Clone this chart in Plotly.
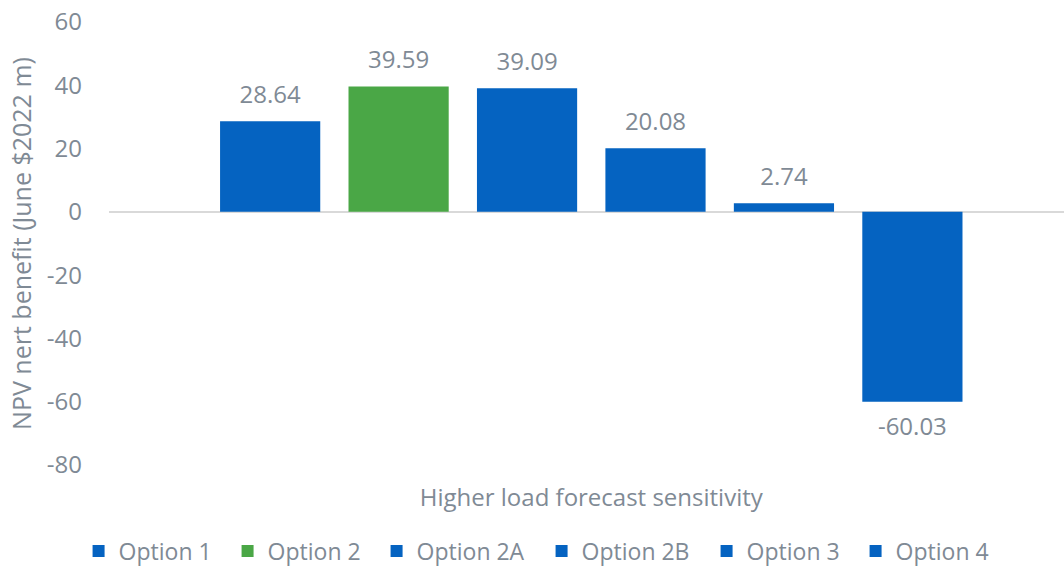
import plotly.graph_objects as go

# Sensitivity scenario and the NPV net benefit of each option ($m, June 2022)
scenario = ["Higher load forecast sensitivity"]
options = ["Option 1", "Option 2", "Option 2A", "Option 2B", "Option 3", "Option 4"]
npv_values = [28.64, 39.59, 39.09, 20.08, 2.74, -60.03]
bar_colors = ["#0563c1", "#4aa746", "#0563c1", "#0563c1", "#0563c1", "#0563c1"]
legend_entry_widths = [104, 104, 120, 120, 104, 104]

y_ticks = [-80, -60, -40, -20, 0, 20, 40, 60]
y_tick_labels = [str(v) for v in y_ticks]

text_gray = "#7f8a95"
font_family = "Open Sans"

fig = go.Figure()
for name, val, col, lw in zip(options, npv_values, bar_colors, legend_entry_widths):
    fig.add_trace(go.Bar(
        name=name,
        x=scenario,
        y=[val],
        marker=dict(color=col, line=dict(width=0)),
        legendwidth=lw,
        hoverinfo="name+y",
    ))

# Value labels: grouped text-only scatter traces share the bars' slot centres
for name, val in zip(options, npv_values):
    fig.add_trace(go.Scatter(
        x=scenario,
        y=[val],
        mode="markers+text",
        marker=dict(size=18 if val >= 0 else 22, opacity=0),
        text=[f"{val:.2f}"],
        textposition="top center" if val >= 0 else "bottom center",
        textfont=dict(family=font_family, size=24, color=text_gray),
        cliponaxis=False,
        showlegend=False,
        hoverinfo="skip",
    ))

fig.update_layout(
    width=1064,
    height=566,
    margin=dict(l=109, r=0, t=22, b=101),
    paper_bgcolor="white",
    plot_bgcolor="white",
    barmode="group",
    bargap=0.193,
    bargroupgap=0.22,
    scattermode="group",
    scattergap=0.193,
    font=dict(family=font_family, size=24, color=text_gray),
    showlegend=True,
    legend=dict(
        orientation="h",
        xref="container", yref="container",
        x=0.509, xanchor="center",
        y=0.0265, yanchor="middle",
        font=dict(family=font_family, size=23, color=text_gray),
        traceorder="normal",
        itemclick=False,
        itemwidth=30,
    ),
    xaxis=dict(
        range=[-0.505, 0.495],
        showgrid=False,
        showline=False,
        ticks="",
        ticklabelstandoff=16,
        tickfont=dict(family=font_family, size=24, color=text_gray),
    ),
    yaxis=dict(
        range=[-80, 60],
        tickvals=y_ticks,
        ticktext=y_tick_labels,
        showgrid=False,
        showline=False,
        zeroline=True,
        zerolinecolor="#d9d9d9",
        zerolinewidth=2,
        ticks="",
        ticklabelstandoff=26,
        tickfont=dict(family=font_family, size=24, color=text_gray),
        title=dict(
            text="NPV nert benefit (June $2022 m)",
            font=dict(family=font_family, size=25, color=text_gray),
            standoff=8,
        ),
    ),
)

fig.write_html("out.html")
